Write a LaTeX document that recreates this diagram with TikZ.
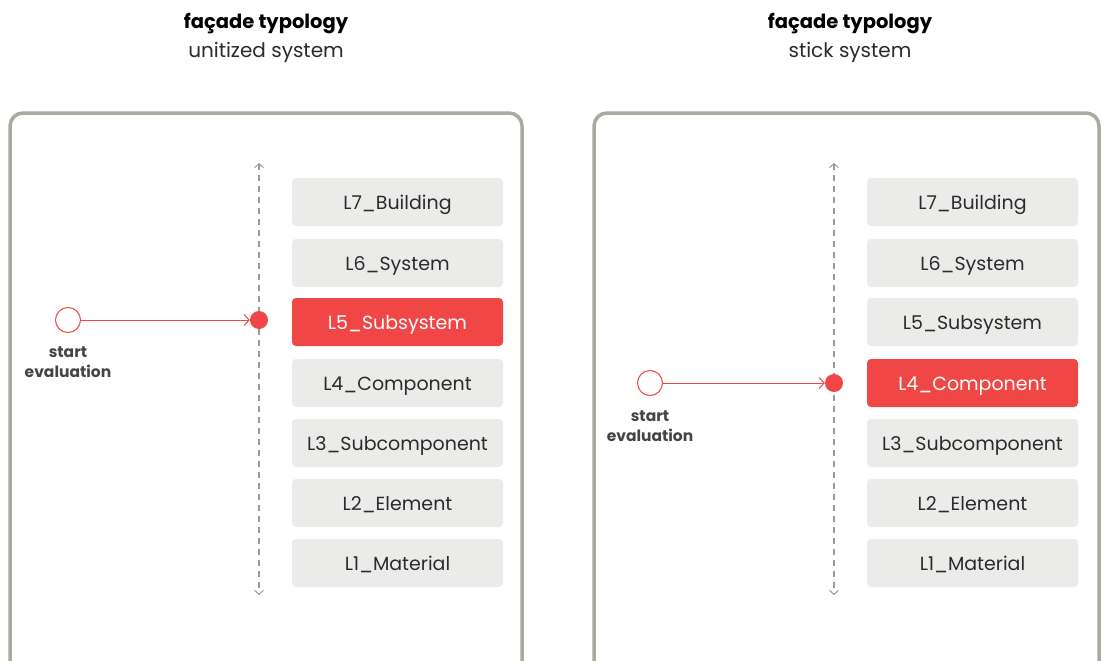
\documentclass[tikz,border=0pt]{standalone}
\usepackage{fontspec}
\setmainfont{Poppins}
\usetikzlibrary{arrows.meta}
\definecolor{boxgray}{HTML}{EBEBEA}
\definecolor{accred}{HTML}{F04646}
\definecolor{framegray}{HTML}{ABA9A2}
\definecolor{dashgray}{HTML}{9A9A9A}
\definecolor{txtdark}{HTML}{2B2B2B}
\definecolor{lbldark}{HTML}{454545}
\begin{document}
\begin{tikzpicture}[x=1pt,y=-1pt,
  level/.style={rectangle,rounded corners=4pt,fill=boxgray,minimum width=211pt,minimum height=48pt,inner sep=0pt,text=txtdark,font=\fontsize{19}{22}\selectfont,text height=16pt,text depth=1pt},
  levelon/.style={level,fill=accred,text=white},
  frame/.style={draw=framegray,line width=3.5pt,rounded corners=13pt},
  axis/.style={draw=dashgray,line width=1.1pt,dash pattern=on 6pt off 5pt,{Straight Barb[length=4pt,width=9pt,line width=1pt]}-{Straight Barb[length=4pt,width=9pt,line width=1pt]}},
  startc/.style={circle,draw=accred,line width=1pt,fill=white,minimum size=25pt,inner sep=0pt},
  hitdot/.style={circle,fill=accred,minimum size=18pt,inner sep=0pt},
  flow/.style={draw=accred,line width=1pt,-{Straight Barb[length=5pt,width=11pt,line width=1pt]},shorten >=0pt},
  lbl/.style={font=\fontsize{15.5}{20}\selectfont\bfseries,text=lbldark,align=center},
  ttl/.style={font=\fontsize{19.5}{22}\selectfont\bfseries,text=black},
  sub/.style={font=\fontsize{20}{22}\selectfont,text=txtdark}
]
\useasboundingbox (0,0) rectangle (1101,661);
\fill[white] (0,0) rectangle (1101,661);

% titles
\node[ttl] (t1) at (266,24) {façade typology};
\node[sub] (s1) at (266,52) {unitized system};
\node[ttl] (t2) at (850,24) {façade typology};
\node[sub] (s2) at (850,52) {stick system};

% frames
\draw[frame] (10,700) -- (10,113) -- (522,113) -- (522,700);
\draw[frame] (594,700) -- (594,113) -- (1099,113) -- (1099,700);

% left panel
\coordinate (la1) at (259,163);
\coordinate (la2) at (259,595);
\path[axis] (la1) -- (la2);
\foreach \n/\y/\t in {7/202/L7\_Building,6/263/L6\_System,4/383/L4\_Component,3/443/L3\_Subcomponent,2/503/L2\_Element,1/563/L1\_Material}{
  \node[level] (lL\n) at (397.5,\y) {\t};
}
\node[levelon] (lL5) at (397.5,322) {L5\_Subsystem};
\node[startc] (lstart) at (68,320) {};
\node[hitdot] (lhit) at (259,320) {};
\draw[flow] (lstart) -- (lhit);
\node[lbl] (llbl) at (68,362) {start\\[0pt]evaluation};

% right panel
\coordinate (ra1) at (834,163);
\coordinate (ra2) at (834,595);
\path[axis] (ra1) -- (ra2);
\foreach \n/\y/\t in {7/202/L7\_Building,6/263/L6\_System,5/322/L5\_Subsystem,3/443/L3\_Subcomponent,2/503/L2\_Element,1/563/L1\_Material}{
  \node[level] (rL\n) at (972.5,\y) {\t};
}
\node[levelon] (rL4) at (972.5,383) {L4\_Component};
\node[startc] (rstart) at (650,383) {};
\node[hitdot] (rhit) at (834,383) {};
\draw[flow] (rstart) -- (rhit);
\node[lbl] (rlbl) at (650,426) {start\\[0pt]evaluation};
\end{tikzpicture}
\end{document}
